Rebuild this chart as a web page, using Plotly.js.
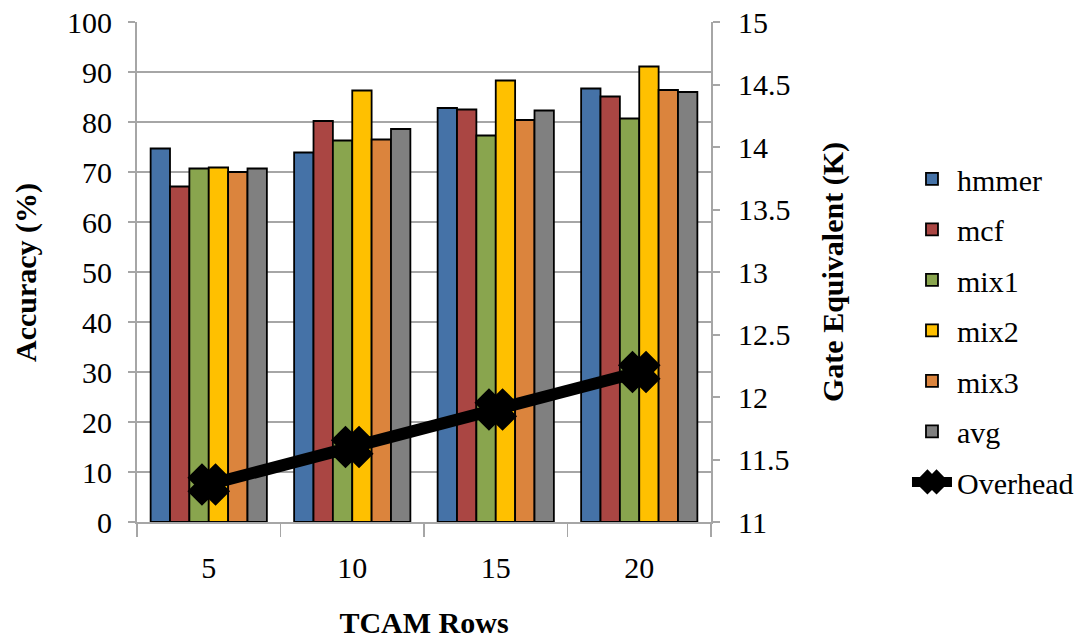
<!DOCTYPE html>
<html>
<head>
<meta charset="utf-8">
<script src="https://cdn.plot.ly/plotly-3.0.1.min.js"></script>
<style>html,body{margin:0;padding:0;background:#fff;}#chart{width:1084px;height:640px;}</style>
</head>
<body>
<div id="chart"></div>
<script>
const categories = ['5', '10', '15', '20'];
const seriesNames = ['hmmer', 'mcf', 'mix1', 'mix2', 'mix3', 'avg'];
const hmmer = [74.7, 73.9, 82.8, 86.7];
const mcf = [67.1, 80.2, 82.5, 85.1];
const mix1 = [70.7, 76.3, 77.3, 80.7];
const mix2 = [70.9, 86.3, 88.3, 91.1];
const mix3 = [70.0, 76.5, 80.4, 86.4];
const avg = [70.7, 78.6, 82.3, 86.0];
const overhead = [11.3, 11.6, 11.9, 12.2];
const colors = ['#4572A7', '#AA4643', '#89A54E', '#FFC000', '#DB843D', '#808080'];
const yTitle = 'Accuracy (%)';
const y2Title = 'Gate Equivalent (K)';
const xTitle = 'TCAM Rows';

const seriesValues = [hmmer, mcf, mix1, mix2, mix3, avg];
const font = '"Times New Roman", "Liberation Serif", serif';
const fs = 30;

const traces = seriesValues.map((vals, i) => ({
  type: 'bar',
  name: seriesNames[i],
  x: categories,
  y: vals,
  legendgroup: 'g' + i,
  marker: {color: colors[i], line: {color: '#000', width: 1.8}},
  hoverinfo: 'skip'
}));

traces.push({
  type: 'scatter',
  mode: 'lines+markers',
  name: 'Overhead',
  x: categories,
  y: overhead,
  yaxis: 'y2',
  legendgroup: 'g6',
  line: {color: '#000', width: 12},
  marker: {symbol: 'x', size: 24, color: '#000', line: {color: '#000', width: 11}},
  hoverinfo: 'skip'
});

const layout = {
  width: 1084, height: 640,
  margin: {l: 137, r: 373, t: 22, b: 118},
  paper_bgcolor: '#fff', plot_bgcolor: '#fff',
  font: {family: font, size: fs, color: '#000'},
  barmode: 'group',
  bargap: 0.19,
  bargroupgap: 0,
  showlegend: true,
  legend: {
    xref: 'container', yref: 'container',
    x: 0.8367, xanchor: 'left', y: 0.761, yanchor: 'top',
    maxheight: 600,
    font: {family: font, size: fs, color: '#000'},
    tracegroupgap: 8.5,
    itemwidth: 40,
    bgcolor: 'rgba(0,0,0,0)'
  },
  annotations: [{
    xref: 'paper', yref: 'paper', x: -0.1934, y: 0.5,
    xanchor: 'center', yanchor: 'middle', textangle: -90, showarrow: false,
    text: '<b>' + yTitle + '</b>', font: {family: font, size: fs, color: '#000'}
  }],
  xaxis: {
    type: 'category',
    tickson: 'boundaries',
    ticks: 'outside', ticklen: 13, tickwidth: 1.5, tickcolor: '#a6a6a6',
    ticklabelstandoff: 18,
    showline: true, linecolor: '#a6a6a6', linewidth: 2,
    showgrid: false,
    tickfont: {family: font, size: fs, color: '#000'},
    title: {text: '<b>' + xTitle + '</b>', font: {family: font, size: fs, color: '#000'}, standoff: 29}
  },
  yaxis: {
    range: [0, 100], dtick: 10,
    ticks: 'outside', ticklen: 7, tickwidth: 2, tickcolor: '#a6a6a6',
    ticklabelstandoff: 10,
    showline: true, linecolor: '#a6a6a6', linewidth: 2,
    showgrid: true, gridcolor: '#a6a6a6', gridwidth: 2,
    zeroline: false,
    tickfont: {family: font, size: fs, color: '#000'}
  },
  yaxis2: {
    overlaying: 'y', side: 'right',
    range: [11, 15], dtick: 0.5,
    ticks: 'outside', ticklen: 7, tickwidth: 2, tickcolor: '#a6a6a6',
    ticklabelstandoff: 12,
    showline: true, linecolor: '#a6a6a6', linewidth: 2,
    showgrid: false, zeroline: false,
    tickfont: {family: font, size: fs, color: '#000'},
    title: {text: '<b>' + y2Title + '</b>', font: {family: font, size: fs, color: '#000'}, standoff: 32}
  }
};

Plotly.newPlot('chart', traces, layout, {displayModeBar: false, staticPlot: true});
</script>
</body>
</html>
